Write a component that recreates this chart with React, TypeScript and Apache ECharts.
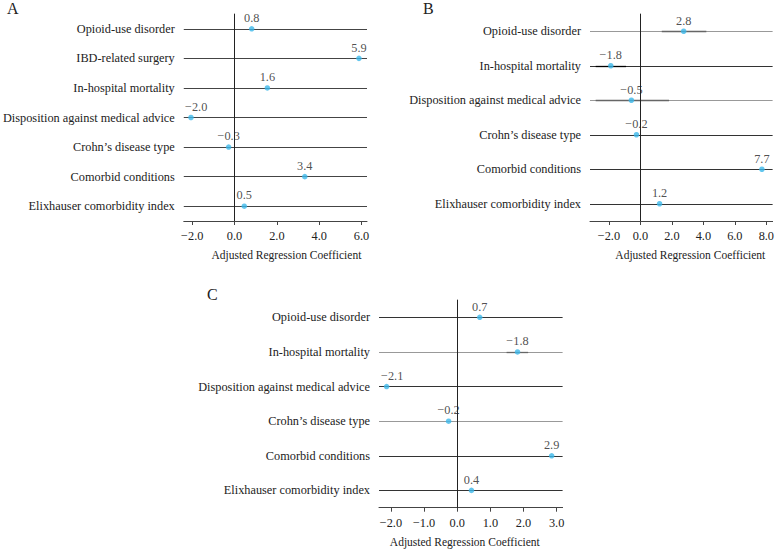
import React, { useEffect, useRef } from "react";
import * as echarts from "echarts";

const FONT = "Liberation Serif, Times New Roman, serif";

// Panel A
const categoriesA = [
  "Opioid-use disorder",
  "IBD-related surgery",
  "In-hospital mortality",
  "Disposition against medical advice",
  "Crohn’s disease type",
  "Comorbid conditions",
  "Elixhauser comorbidity index",
];
const valuesA = [0.81, 5.88, 1.55, -2.06, -0.28, 3.32, 0.46];
const labelsA = ["0.8", "5.9", "1.6", "−2.0", "−0.3", "3.4", "0.5"];
const rowColorsA = ["#444", "#444", "#444", "#444", "#444", "#444", "#444"];
const ciLowA: (number | null)[] = [null, null, null, null, null, null, null];
const ciHighA: (number | null)[] = [null, null, null, null, null, null, null];
const ciColorsA = ["#444", "#444", "#444", "#444", "#444", "#444", "#444"];
const ticksA = [-2, 0, 2, 4, 6];

// Panel B
const categoriesB = [
  "Opioid-use disorder",
  "In-hospital mortality",
  "Disposition against medical advice",
  "Crohn’s disease type",
  "Comorbid conditions",
  "Elixhauser comorbidity index",
];
const valuesB = [2.75, -1.88, -0.57, -0.25, 7.72, 1.22];
const labelsB = ["2.8", "−1.8", "−0.5", "−0.2", "7.7", "1.2"];
const rowColorsB = ["#999", "#333", "#999", "#333", "#333", "#333"];
const ciLowB: (number | null)[] = [1.36, -2.84, -2.84, null, null, null];
const ciHighB: (number | null)[] = [4.19, -0.91, 1.82, null, null, null];
const ciColorsB = ["#666", "#000", "#666", "#333", "#333", "#333"];
const ticksB = [-2, 0, 2, 4, 6, 8];

// Panel C
const categoriesC = [
  "Opioid-use disorder",
  "In-hospital mortality",
  "Disposition against medical advice",
  "Crohn’s disease type",
  "Comorbid conditions",
  "Elixhauser comorbidity index",
];
const valuesC = [0.68, 1.82, -2.13, -0.26, 2.85, 0.43];
const labelsC = ["0.7", "−1.8", "−2.1", "−0.2", "2.9", "0.4"];
const rowColorsC = ["#333", "#999", "#333", "#999", "#333", "#333"];
const ciLowC: (number | null)[] = [null, 1.49, null, null, null, null];
const ciHighC: (number | null)[] = [null, 2.14, null, null, null, null];
const ciColorsC = ["#333", "#666", "#333", "#333", "#333", "#333"];
const ticksC = [-2, -1, 0, 1, 2, 3];

const axisName = "Adjusted Regression Coefficient";

function fmt(v: number) {
  return (v < 0 ? "−" : "") + Math.abs(v).toFixed(1);
}

function buildOption() {
  const panels = [
    {
      letter: "A", cats: categoriesA, vals: valuesA, labels: labelsA, rowColors: rowColorsA,
      ciLow: ciLowA, ciHigh: ciHighA, ciColors: ciColorsA, ticks: ticksA,
      min: -2.4, max: 6.26, grid: { left: 183, top: 14, width: 184, height: 207 },
      namePad: [0, 0, 0, 22], letterPos: { left: 7, top: 0 },
    },
    {
      letter: "B", cats: categoriesB, vals: valuesB, labels: labelsB, rowColors: rowColorsB,
      ciLow: ciLowB, ciHigh: ciHighB, ciColors: ciColorsB, ticks: ticksB,
      min: -3.2, max: 8.4, grid: { left: 590, top: 14, width: 184.4, height: 207 },
      namePad: [0, 0, 0, 18], letterPos: { left: 423, top: 0 },
    },
    {
      letter: "C", cats: categoriesC, vals: valuesC, labels: labelsC, rowColors: rowColorsC,
      ciLow: ciLowC, ciHigh: ciHighC, ciColors: ciColorsC, ticks: ticksC,
      min: -2.36, max: 3.18, grid: { left: 379, top: 300, width: 183.6, height: 207.7 },
      namePad: [0, 12, 0, 0], letterPos: { left: 207, top: 286 },
    },
  ];

  const grid: any[] = [];
  const xAxis: any[] = [];
  const yAxis: any[] = [];
  const series: any[] = [];
  const graphic: any[] = [];

  panels.forEach((p, k) => {
    grid.push({ ...p.grid, containLabel: false });
    xAxis.push({
      type: "value",
      gridIndex: k,
      min: p.min,
      max: p.max,
      axisLine: { show: true, lineStyle: { color: "#444", width: 1 } },
      axisTick: { show: true, length: 4, inside: false, customValues: p.ticks, lineStyle: { color: "#444" } },
      axisLabel: {
        customValues: p.ticks,
        formatter: (v: number) => fmt(v),
        fontSize: 12.3,
        fontFamily: FONT,
        color: "#222",
        margin: 9,
      },
      splitLine: { show: false },
      name: axisName,
      nameLocation: "middle",
      nameGap: 28,
      nameTextStyle: { fontSize: 11.5, fontFamily: FONT, color: "#222", padding: p.namePad },
    });
    yAxis.push({
      type: "category",
      gridIndex: k,
      data: p.cats,
      inverse: true,
      axisLine: { show: true, lineStyle: { color: "#444", width: 1 } },
      axisTick: { show: true, length: 4, alignWithLabel: true, lineStyle: { color: "#444" } },
      axisLabel: { fontSize: 12.3, fontFamily: FONT, color: "#222", margin: 9 },
      splitLine: { show: false },
    });

    const mlData: any[] = [];
    p.cats.forEach((_c, i) => {
      mlData.push({ yAxis: i, lineStyle: { color: p.rowColors[i], width: 1.1, type: "solid" } });
    });
    p.cats.forEach((_c, i) => {
      const lo = p.ciLow[i];
      const hi = p.ciHigh[i];
      if (lo != null && hi != null) {
        mlData.push([
          { coord: [lo, i], lineStyle: { color: p.ciColors[i], width: 1.3, type: "solid" } },
          { coord: [hi, i] },
        ]);
      }
    });
    mlData.push({ xAxis: 0, lineStyle: { color: "#222", width: 1, type: "solid" } });

    series.push({
      type: "scatter",
      xAxisIndex: k,
      yAxisIndex: k,
      data: p.vals.map((v, i) => [v, i]),
      symbolSize: 0,
      silent: true,
      z: 1,
      itemStyle: { opacity: 0 },
      markLine: {
        silent: true,
        symbol: ["none", "none"],
        label: { show: false },
        emphasis: { disabled: true },
        animation: false,
        data: mlData,
      },
    });

    const gridLeft = p.grid.left;
    series.push({
      type: "scatter",
      xAxisIndex: k,
      yAxisIndex: k,
      data: p.vals.map((v, i) => [v, i]),
      symbol: "circle",
      symbolSize: 5.5,
      z: 5,
      silent: true,
      itemStyle: { color: "#3cb8ea" },
      label: {
        show: true,
        position: "top",
        distance: 2,
        formatter: (params: any) => p.labels[params.dataIndex],
        fontSize: 12.3,
        fontFamily: FONT,
        color: "#222",
      },
      labelLayout: (params: any) => {
        const r = params.labelRect;
        const minX = gridLeft + 2;
        if (r && r.x < minX) {
          return {
            x: minX + r.width / 2,
            y: r.y + r.height / 2,
            align: "center",
            verticalAlign: "middle",
          };
        }
        return {};
      },
    });

    graphic.push({
      type: "text",
      left: p.letterPos.left,
      top: p.letterPos.top,
      style: { text: p.letter, fontSize: 16, fontFamily: FONT, fill: "#222" },
    });
  });

  return {
    animation: false,
    backgroundColor: "#fff",
    grid,
    xAxis,
    yAxis,
    series,
    graphic,
  };
}

export default function App() {
  const ref = useRef<HTMLDivElement>(null);
  useEffect(() => {
    if (!ref.current) return;
    const chart = echarts.init(ref.current, null, { renderer: "svg" });
    chart.setOption(buildOption() as any);
    return () => chart.dispose();
  }, []);
  return (
    <div
      ref={ref}
      style={{ position: "absolute", left: 0, top: 0, width: 777, height: 549, background: "#fff" }}
    />
  );
}
